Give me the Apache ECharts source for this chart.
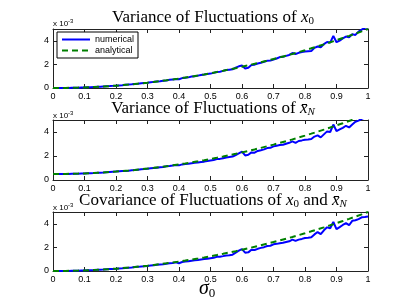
<!DOCTYPE html>
<html><head><meta charset="utf-8">
<script src="https://cdn.jsdelivr.net/npm/echarts@6/dist/echarts.min.js"></script>
<style>html,body{margin:0;padding:0;background:#fff}#c{width:407px;height:306px}</style>
</head><body><div id="c"></div>
<script>
// sigma_0 grid for numerical curves
const sigmaFine = [0,0.01,0.02,0.03,0.04,0.05,0.06,0.07,0.08,0.09,0.1,0.11,0.12,0.13,0.14,0.15,0.16,0.17,0.18,0.19,0.2,0.21,0.22,0.23,0.24,0.25,0.26,0.27,0.28,0.29,0.3,0.31,0.32,0.33,0.34,0.35,0.36,0.37,0.38,0.39,0.4,0.41,0.42,0.43,0.44,0.45,0.46,0.47,0.48,0.49,0.5,0.51,0.52,0.53,0.54,0.55,0.56,0.57,0.58,0.59,0.6,0.61,0.62,0.63,0.64,0.65,0.66,0.67,0.68,0.69,0.7,0.71,0.72,0.73,0.74,0.75,0.76,0.77,0.78,0.79,0.8,0.81,0.82,0.83,0.84,0.85,0.86,0.87,0.88,0.89,0.9,0.91,0.92,0.93,0.94,0.95,0.96,0.97,0.98,0.99,1];
// sigma_0 grid for analytical curves
const sigmaCoarse = [0,0.02,0.04,0.06,0.08,0.1,0.12,0.14,0.16,0.18,0.2,0.22,0.24,0.26,0.28,0.3,0.32,0.34,0.36,0.38,0.4,0.42,0.44,0.46,0.48,0.5,0.52,0.54,0.56,0.58,0.6,0.62,0.64,0.66,0.68,0.7,0.72,0.74,0.76,0.78,0.8,0.82,0.84,0.86,0.88,0.9,0.92,0.94,0.96,0.98,1];

// values in units of 1e-3
const numVarX0 = [0,0,0,0.01,0.01,0.01,0.02,0.02,0.03,0.04,0.05,0.06,0.07,0.09,0.10,0.11,0.13,0.15,0.16,0.18,0.20,0.22,0.24,0.27,0.29,0.31,0.34,0.36,0.40,0.42,0.44,0.48,0.52,0.55,0.57,0.62,0.64,0.70,0.71,0.77,0.74,0.84,0.87,0.90,0.97,1.00,1.05,1.10,1.14,1.19,1.22,1.28,1.36,1.38,1.45,1.52,1.55,1.58,1.72,1.84,1.90,1.66,1.72,1.95,1.98,2.08,2.14,2.22,2.30,2.32,2.42,2.50,2.62,2.64,2.72,2.80,2.96,2.88,2.98,3.05,3.10,3.12,3.14,3.40,3.52,3.45,3.72,3.90,3.85,4.42,3.88,4.02,4.20,4.36,4.30,4.55,4.50,4.78,4.95,5.10,5.15];
const anaVarX0 = [0,0.002,0.008,0.018,0.032,0.05,0.072,0.098,0.128,0.162,0.2,0.242,0.288,0.338,0.392,0.45,0.512,0.578,0.648,0.722,0.8,0.882,0.968,1.058,1.152,1.25,1.352,1.458,1.568,1.682,1.8,1.922,2.048,2.178,2.312,2.45,2.592,2.738,2.888,3.042,3.2,3.362,3.528,3.698,3.872,4.05,4.232,4.418,4.608,4.802,5.0];

const numVarXN = [0.50,0.50,0.50,0.50,0.51,0.51,0.52,0.52,0.53,0.54,0.55,0.56,0.57,0.58,0.60,0.61,0.62,0.64,0.66,0.68,0.70,0.72,0.74,0.76,0.78,0.81,0.83,0.86,0.89,0.91,0.94,0.97,1.00,1.03,1.06,1.08,1.14,1.16,1.20,1.25,1.22,1.30,1.33,1.36,1.40,1.44,1.46,1.50,1.53,1.58,1.62,1.66,1.74,1.76,1.82,1.88,1.92,1.95,2.08,2.22,2.36,2.05,2.10,2.30,2.28,2.42,2.48,2.55,2.66,2.68,2.80,2.86,2.92,2.94,3.02,3.10,3.22,3.10,3.25,3.30,3.36,3.38,3.42,3.62,3.72,3.55,3.80,4.05,4.00,4.62,4.08,4.22,4.35,4.52,4.38,4.62,4.85,4.95,5.10,5.20,5.35];
const anaVarXN = [0.5,0.502,0.508,0.518,0.532,0.55,0.572,0.598,0.628,0.662,0.7,0.742,0.788,0.838,0.892,0.95,1.012,1.078,1.148,1.222,1.3,1.382,1.468,1.558,1.652,1.75,1.852,1.958,2.068,2.182,2.3,2.422,2.548,2.678,2.812,2.95,3.092,3.238,3.388,3.542,3.7,3.862,4.028,4.198,4.372,4.55,4.732,4.918,5.108,5.302,5.5];

const numCov = [0,0,0,0.01,0.01,0.01,0.02,0.02,0.03,0.04,0.05,0.06,0.07,0.08,0.10,0.11,0.12,0.14,0.16,0.18,0.19,0.21,0.23,0.26,0.28,0.30,0.33,0.35,0.38,0.40,0.43,0.46,0.49,0.52,0.55,0.58,0.62,0.65,0.68,0.73,0.66,0.76,0.80,0.82,0.87,0.90,0.93,0.98,1.01,1.04,1.08,1.12,1.20,1.21,1.26,1.32,1.34,1.38,1.55,1.72,1.86,1.55,1.58,1.80,1.78,1.88,1.96,2.02,2.12,2.14,2.26,2.30,2.36,2.40,2.46,2.52,2.66,2.55,2.66,2.72,2.80,2.82,2.86,3.10,3.30,3.12,3.45,3.70,3.62,4.15,3.55,3.72,3.90,4.05,3.88,4.25,4.30,4.40,4.55,4.58,4.62];
const anaCov = [0,0.002,0.008,0.018,0.032,0.05,0.072,0.098,0.128,0.162,0.2,0.242,0.288,0.338,0.392,0.45,0.512,0.578,0.648,0.722,0.8,0.882,0.968,1.058,1.152,1.25,1.352,1.458,1.568,1.682,1.8,1.922,2.048,2.178,2.312,2.45,2.592,2.738,2.888,3.042,3.2,3.362,3.528,3.698,3.872,4.05,4.232,4.418,4.608,4.802,5.0];

const xTicks = [0,0.1,0.2,0.3,0.4,0.5,0.6,0.7,0.8,0.9,1];
const yTicks = [0,2,4];
const titles = ['Variance of Fluctuations of ', 'Variance of Fluctuations of ', 'Covariance of Fluctuations of '];
const seriesNames = ['numerical', 'analytical'];

const numSets = [numVarX0, numVarXN, numCov];
const anaSets = [anaVarX0, anaVarXN, anaCov];

const gridPos = [{top:29,height:59},{top:120,height:60},{top:212,height:59}];
const axisColor = '#222';
const sansFont = '"Liberation Sans", Arial, sans-serif';
const serifFont = '"Liberation Serif", "DejaVu Serif", serif';

const zip = (xs, ys) => xs.map((x, i) => [x, ys[i]]);

const grid = [], xAxis = [], yAxis = [], series = [];
gridPos.forEach((g, k) => {
  grid.push({left:53, right:39, top:g.top, height:g.height, show:false});
  const tickStyle = {show:true, inside:true, length:4, lineStyle:{color:axisColor, width:1}};
  const base = {type:'value', min:0, max:1, interval:0.1, gridIndex:k,
    axisLine:{show:true, onZero:false, lineStyle:{color:axisColor, width:1}},
    splitLine:{show:false}, axisTick:tickStyle};
  xAxis.push(Object.assign({}, base, {position:'bottom',
    axisLabel:{show:true, fontSize:9, color:'#000', fontFamily:sansFont, margin:4,
      formatter: v => xTicks.indexOf(Math.round(v*10)/10) >= 0 ? String(Math.round(v*10)/10) : ''}}));
  xAxis.push(Object.assign({}, base, {position:'top', axisLabel:{show:false}}));
  const ybase = {type:'value', min:0, max:5, interval:2, gridIndex:k,
    axisLine:{show:true, onZero:false, lineStyle:{color:axisColor, width:1}},
    splitLine:{show:false}, axisTick:tickStyle};
  yAxis.push(Object.assign({}, ybase, {position:'left',
    axisLabel:{show:true, fontSize:9, color:'#000', fontFamily:sansFont, margin:4,
      showMaxLabel:false, formatter: v => yTicks.indexOf(v) >= 0 ? String(v) : ''}}));
  yAxis.push(Object.assign({}, ybase, {position:'right', axisLabel:{show:false}}));
  series.push({name:seriesNames[0], type:'line', xAxisIndex:2*k, yAxisIndex:2*k,
    data: zip(sigmaFine, numSets[k]), symbol:'none', clip:true,
    lineStyle:{color:'#0000ff', width:2}, itemStyle:{color:'#0000ff'}, z:2});
  series.push({name:seriesNames[1], type:'line', xAxisIndex:2*k, yAxisIndex:2*k,
    data: zip(sigmaCoarse, anaSets[k]), symbol:'none', clip:true, smooth:false,
    lineStyle:{color:'#008000', width:2, type:[6,4]}, itemStyle:{color:'#008000'}, z:3});
});

const richTitle = {
  a:{fontFamily:serifFont, fontSize:17, fontWeight:'normal', color:'#000'},
  i:{fontFamily:serifFont, fontSize:17, fontWeight:'normal', fontStyle:'italic', color:'#000'},
  s:{fontFamily:serifFont, fontSize:11, fontWeight:'normal', fontStyle:'normal', color:'#000', padding:[8,0,0,0]},
  si:{fontFamily:serifFont, fontSize:11, fontWeight:'normal', fontStyle:'italic', color:'#000', padding:[8,0,0,0]}
};
const titleTexts = [
  '{a|' + titles[0] + '}{i|x}{s|0}',
  '{a|' + titles[1] + '}{i|x\u0304}{si|N}',
  '{a|' + titles[2] + '}{i|x}{s|0}{a| and }{i|x\u0304}{si|N}'
];
const titleTops = [8, 99, 191];
const title = titleTexts.map((t, k) => ({
  text: t, left: 213, top: titleTops[k], textAlign:'center', padding:0,
  textStyle:{fontWeight:'normal', rich: richTitle}
}));

const expTops = [18, 110, 202];
const graphic = expTops.map(t => ({
  type:'text', left:53, top:t,
  style:{text:'{b|x 10}{e|-3}', rich:{
    b:{fontSize:8, fontFamily:sansFont, fill:'#000'},
    e:{fontSize:6, fontFamily:sansFont, fill:'#000', padding:[0,0,5,0]}
  }}
}));
graphic.push({type:'text', left:199, top:279,
  style:{text:'{s|\u03c3}{z|0}', rich:{
    s:{fontSize:20, fontFamily:serifFont, fontStyle:'italic', fill:'#000'},
    z:{fontSize:13, fontFamily:serifFont, fill:'#000', padding:[9,0,0,0]}
  }}});

const chart = echarts.init(document.getElementById('c'), null, {renderer:'canvas'});
chart.setOption({
  animation:false,
  backgroundColor:'#fff',
  title, grid, xAxis, yAxis, series, graphic,
  legend:{data:seriesNames, left:57, top:32, orient:'vertical',
    itemWidth:28, itemHeight:10, itemGap:2, padding:[3,4,3,4],
    borderColor:'#000', borderWidth:1, backgroundColor:'#fff',
    itemStyle:{opacity:0},
    textStyle:{fontSize:9, fontFamily:sansFont, color:'#000'}, selectedMode:false}
});
</script></body></html>
